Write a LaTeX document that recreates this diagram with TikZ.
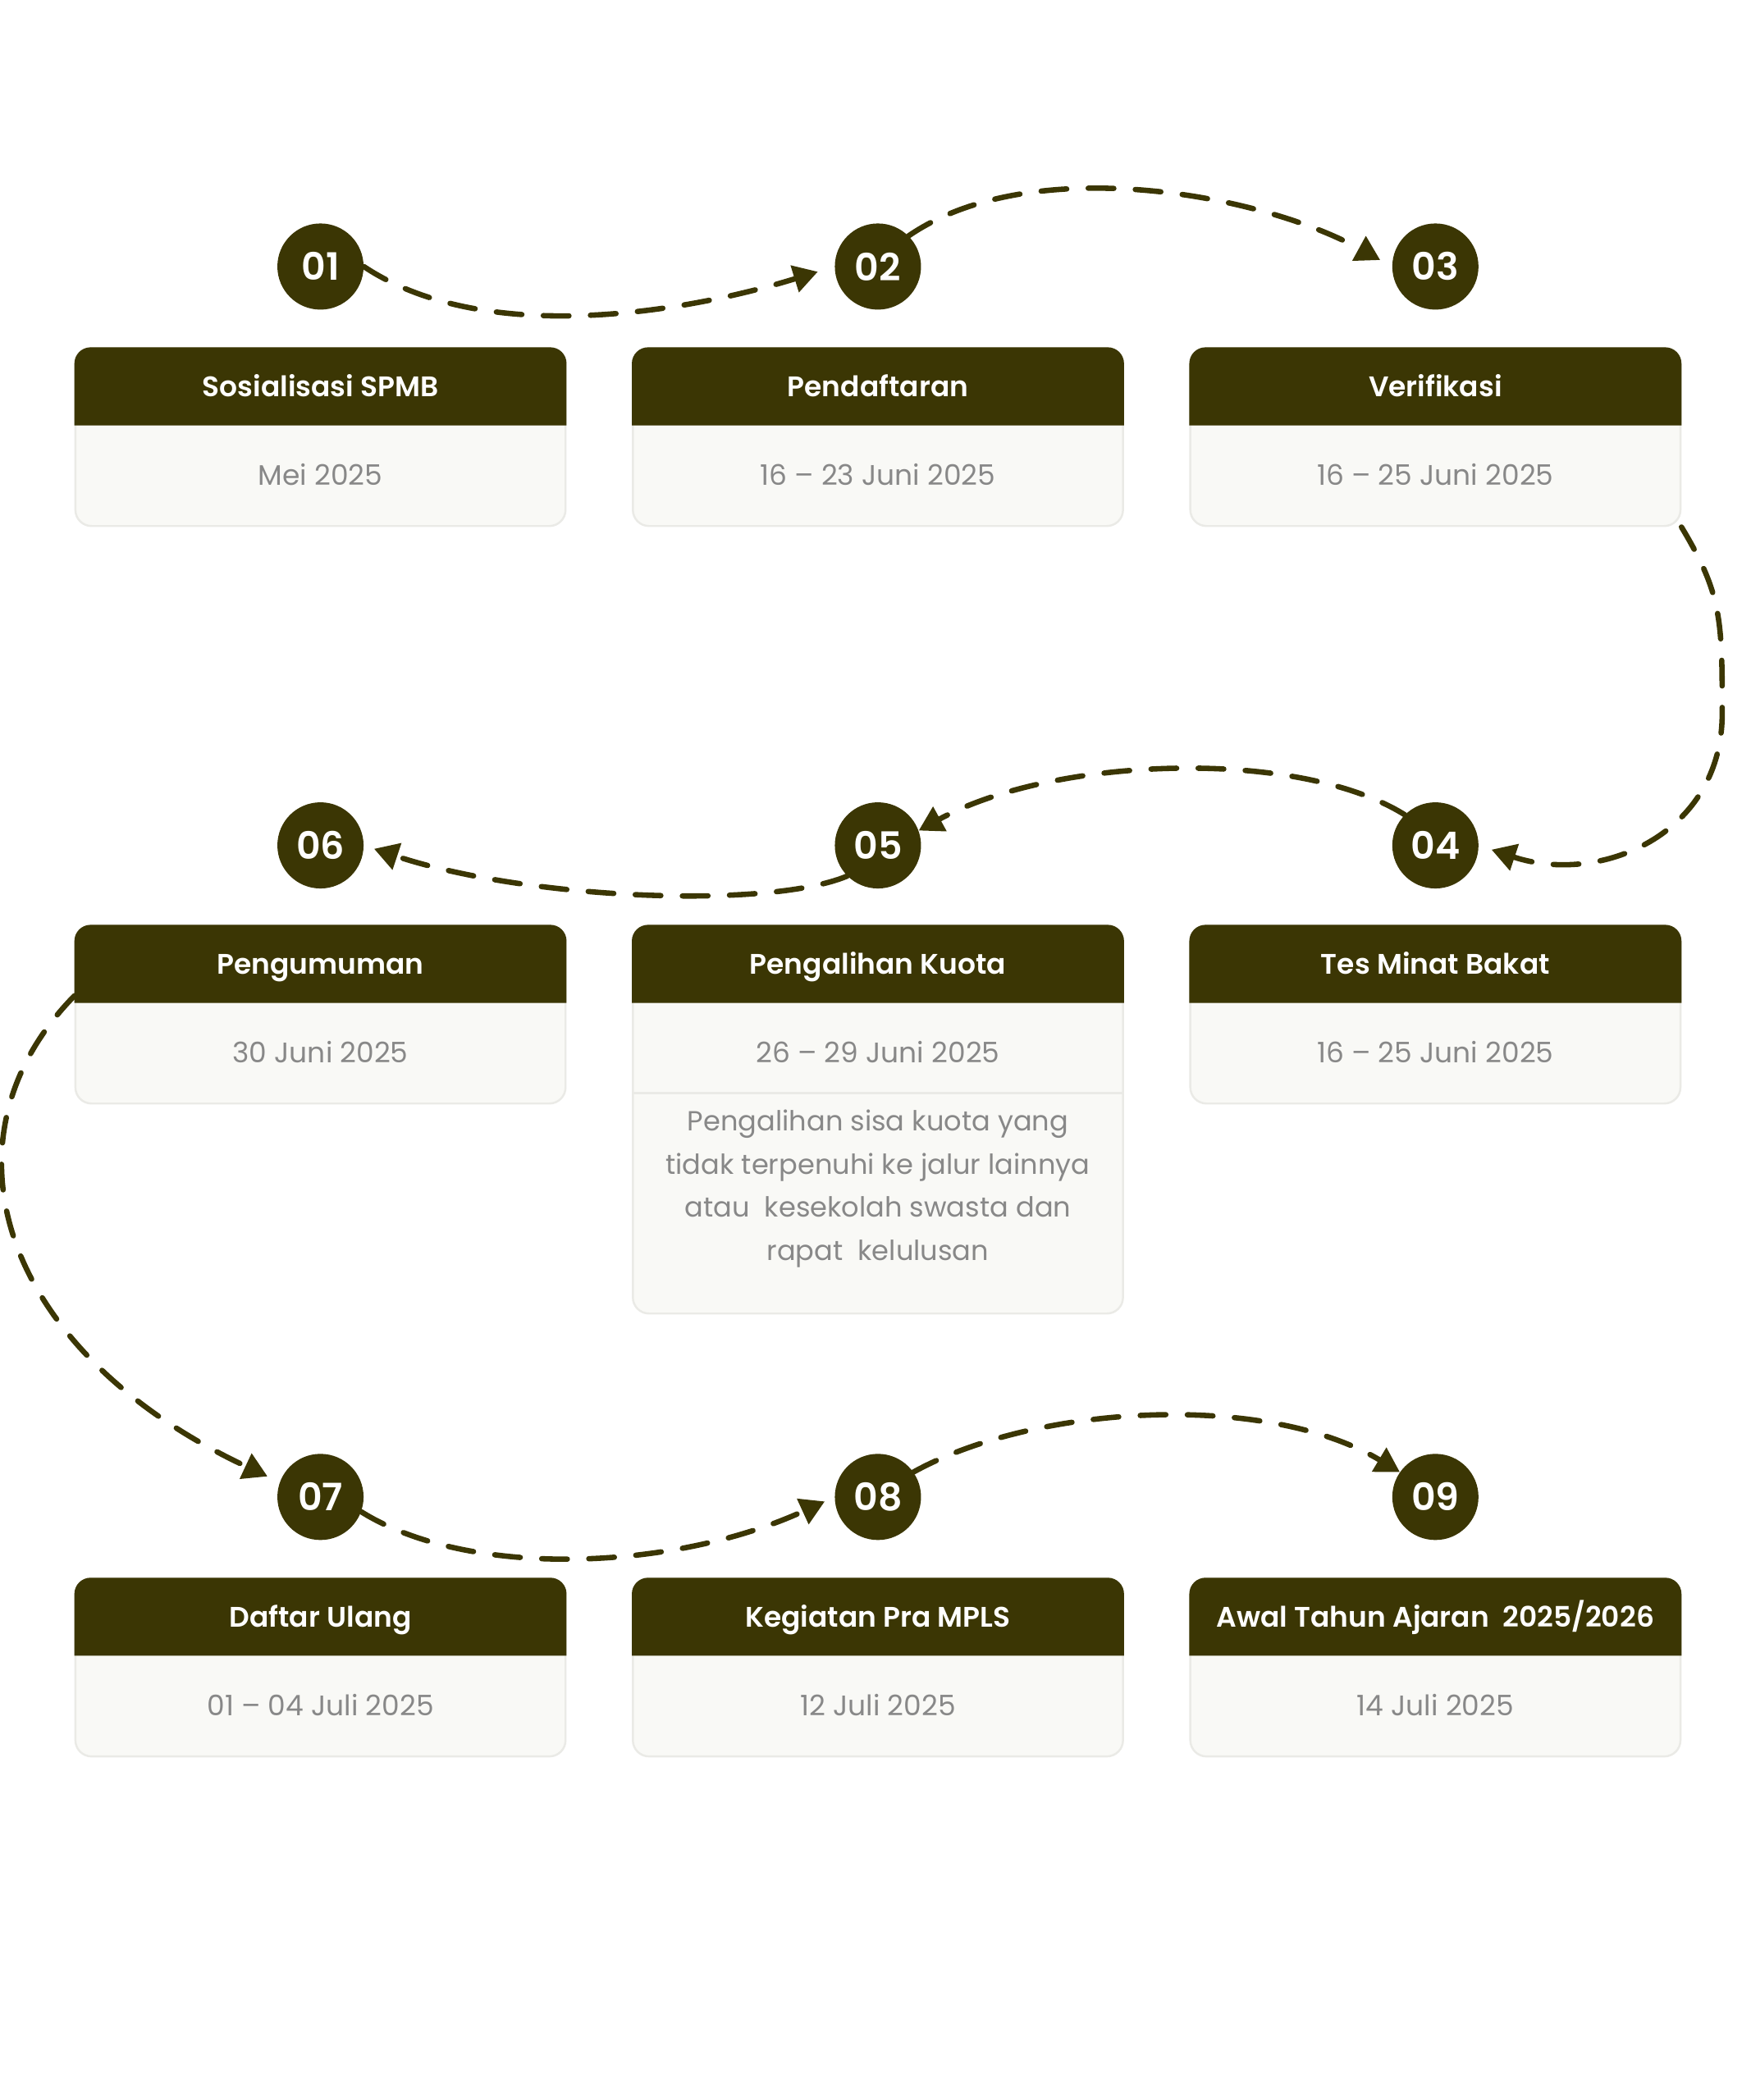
\documentclass[tikz,border=0pt]{standalone}
\usepackage{fontspec}
\setmainfont{Poppins}[BoldFont={Poppins SemiBold}]
\usetikzlibrary{arrows.meta}
\definecolor{zaitun}{RGB}{59,54,4}
\definecolor{isikartu}{RGB}{249,249,246}
\definecolor{tepikartu}{RGB}{234,234,230}
\definecolor{abu}{RGB}{136,136,136}
\tikzset{
	bulat/.style={circle, fill=zaitun, minimum size=64pt, inner sep=0pt, text=white, font=\fontsize{28}{30}\selectfont\bfseries},
	kartu/.style={rectangle, rounded corners=12pt, fill=isikartu, draw=tepikartu, line width=1.5pt, minimum width=364pt, anchor=north, inner sep=0pt},
	judul/.style={text=white, inner sep=0pt, text height=15pt, text depth=0pt, font=\fontsize{21}{24}\selectfont\bfseries},
	tanggal/.style={text=abu, inner sep=0pt, text height=15pt, text depth=0pt, font=\fontsize{21}{24}\selectfont},
	alur/.style={draw=zaitun, line width=4pt, line cap=round, dash pattern=on 19pt off 16pt, -{Triangle[length=18pt,width=20pt]}}
}
\def\kartu[#1](#2)(#3,#4)#5#6{%
	\node[kartu, minimum height=#1] (#2) at (#3,#4) {};
	\fill[zaitun] ([yshift=-58pt]#2.north west) [rounded corners=12pt] -- (#2.north west) -- (#2.north east) [sharp corners] -- ([yshift=-58pt]#2.north east) -- cycle;
	\node[judul] (#2-judul) at ([yshift=-29pt]#2.north) {#5};
	\node[tanggal] (#2-tgl) at ([yshift=-95pt]#2.north) {#6};
}

\begin{document}
\begin{tikzpicture}[x=1pt, y=1pt]
		%%%%% LATAR %%%%%
		\fill[white] (0,0) rectangle (1300,-1560);
		\useasboundingbox (0,0) rectangle (1300,-1560);
		
		%%%%% BARIS 1 %%%%%
		\node[bulat] (n1) at (238,-198) {01};
		\node[bulat] (n2) at (652,-198) {02};
		\node[bulat] (n3) at (1066,-198) {03};
		
		\kartu[132pt](k1)(238,-258){Sosialisasi SPMB}{Mei 2025}
		\kartu[132pt](k2)(652,-258){Pendaftaran}{16 -- 23 Juni 2025}
		\kartu[132pt](k3)(1066,-258){Verifikasi}{16 -- 25 Juni 2025}
		
		%%%%% BARIS 2 %%%%%
		\node[bulat] (n6) at (238,-628) {06};
		\node[bulat] (n5) at (652,-628) {05};
		\node[bulat] (n4) at (1066,-628) {04};
		
		\kartu[132pt](k6)(238,-687){Pengumuman}{30 Juni 2025}
		\kartu[288pt](k5)(652,-687){Pengalihan Kuota}{26 -- 29 Juni 2025}
		\kartu[132pt](k4)(1066,-687){Tes Minat Bakat}{16 -- 25 Juni 2025}
		
		\draw[tepikartu, line width=1.5pt] ([yshift=-125pt]k5.north west) -- ([yshift=-125pt]k5.north east);
		\node[text=abu, align=center, font=\fontsize{20.5}{32}\selectfont] (k5-ket) at ([yshift=-196pt]k5.north) {Pengalihan sisa kuota yang\\tidak terpenuhi ke jalur lainnya\\atau~ kesekolah swasta dan\\rapat~ kelulusan};
		
		%%%%% BARIS 3 %%%%%
		\node[bulat] (n7) at (238,-1112) {07};
		\node[bulat] (n8) at (652,-1112) {08};
		\node[bulat] (n9) at (1066,-1112) {09};
		
		\kartu[132pt](k7)(238,-1172){Daftar Ulang}{01 -- 04 Juli 2025}
		\kartu[132pt](k8)(652,-1172){Kegiatan Pra MPLS}{12 Juli 2025}
		\kartu[132pt](k9)(1066,-1172){Awal Tahun Ajaran~ 2025/2026}{14 Juli 2025}
		
		%%%%% ALUR %%%%%
		\draw[alur, shorten >=13pt] (n1.east) .. controls +(90,-60) and +(-110,-34) .. (n2.west);
		\draw[alur, shorten >=10pt] (n2.north east) .. controls +(90,62) and +(-100,55) .. (n3.west);
		\draw[alur, shorten >=10pt] (k3.south east) .. controls +(30,-50) and +(0,70) .. (1279,-530) .. controls +(0,-90) and +(90,-30) .. (n4.east);
		\draw[alur] (n4.north west) .. controls +(-80,50) and +(100,55) .. (n5.20);
		\draw[alur, shorten >=8pt] (n5.south west) .. controls +(-60,-25) and +(120,-40) .. (n6.east);
		\draw[alur, shorten >=10pt] ([yshift=14pt]k6.west) .. controls +(-105,-107) and +(-207,97) .. (n7.160);
		\draw[alur, shorten >=8pt] (n7.-20) .. controls +(80,-50) and +(-120,-55) .. (n8.west);
		\draw[alur] (n8.35) .. controls +(90,50) and +(-100,60) .. (n9.145);
		
\end{tikzpicture}
\end{document}
